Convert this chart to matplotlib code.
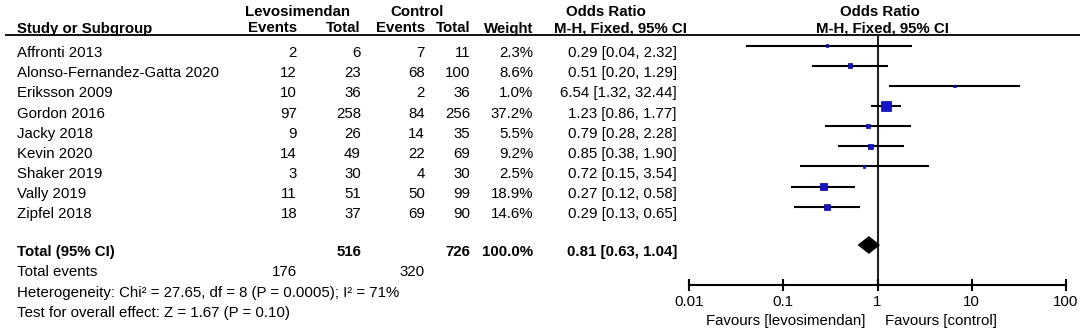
import matplotlib
matplotlib.use("Agg")
import matplotlib.pyplot as plt
import numpy as np

plt.rcParams["font.family"] = ["Liberation Sans", "DejaVu Sans"]

# data
studies = [
    "Affronti 2013",
    "Alonso-Fernandez-Gatta 2020",
    "Eriksson 2009",
    "Gordon 2016",
    "Jacky 2018",
    "Kevin 2020",
    "Shaker 2019",
    "Vally 2019",
    "Zipfel 2018",
]
levo_events = [2, 12, 10, 97, 9, 14, 3, 11, 18]
levo_total = [6, 23, 36, 258, 26, 49, 30, 51, 37]
ctrl_events = [7, 68, 2, 84, 14, 22, 4, 50, 69]
ctrl_total = [11, 100, 36, 256, 35, 69, 30, 99, 90]
weights = [2.3, 8.6, 1.0, 37.2, 5.5, 9.2, 2.5, 18.9, 14.6]
odds = [0.29, 0.51, 6.54, 1.23, 0.79, 0.85, 0.72, 0.27, 0.29]
ci_low = [0.04, 0.20, 1.32, 0.86, 0.28, 0.38, 0.15, 0.12, 0.13]
ci_high = [2.32, 1.29, 32.44, 1.77, 2.28, 1.90, 3.54, 0.58, 0.65]

total_levo = 516
total_ctrl = 726
total_weight = 100.0
events_levo = 176
events_ctrl = 320
total_or = 0.81
total_low = 0.63
total_high = 1.04

axis_ticks = [0.01, 0.1, 1, 10, 100]
axis_labels = ["0.01", "0.1", "1", "10", "100"]

heterogeneity = "Heterogeneity: Chi\u00b2 = 27.65, df = 8 (P = 0.0005); I\u00b2 = 71%"
overall = "Test for overall effect: Z = 1.67 (P = 0.10)"

FS = 10.8
W, H = 1084, 332

fig = plt.figure(figsize=(W / 100, H / 100), dpi=100)
fig.patch.set_facecolor("white")

# table part, laid out in pixel units
ax_t = fig.add_axes([0, 0, 1, 1])
ax_t.set_xlim(0, W)
ax_t.set_ylim(H, 0)
ax_t.axis("off")

X_NAME = 17
X_LEV_E = 297
X_LEV_T = 361
X_CON_E = 425
X_CON_T = 470
X_WEIGHT = 533
X_OR = 677

ROW0 = 57.1  # baseline of first study row
DROW = 20.15

# headers
ax_t.text(297, 15.5, "Levosimendan", ha="center", va="baseline", fontsize=FS, fontweight="bold")
ax_t.text(417, 15.5, "Control", ha="center", va="baseline", fontsize=FS, fontweight="bold")
ax_t.text(606, 15.5, "Odds Ratio", ha="center", va="baseline", fontsize=FS, fontweight="bold")
ax_t.text(880, 15.5, "Odds Ratio", ha="center", va="baseline", fontsize=FS, fontweight="bold")
hdr_y = 32.5
ax_t.text(X_NAME, hdr_y, "Study or Subgroup", ha="left", va="baseline", fontsize=FS, fontweight="bold")
for x, s in [(X_LEV_E, "Events"), (X_LEV_T, "Total"), (X_CON_E, "Events"),
             (X_CON_T, "Total"), (X_WEIGHT, "Weight")]:
    ax_t.text(x, hdr_y, s, ha="right", va="baseline", fontsize=FS, fontweight="bold")
ax_t.text(620, hdr_y, "M-H, Fixed, 95% CI", ha="center", va="baseline", fontsize=FS, fontweight="bold")
ax_t.text(882, hdr_y, "M-H, Fixed, 95% CI", ha="center", va="baseline", fontsize=FS, fontweight="bold")
ax_t.plot([5, 1080], [34.5, 34.5], color="black", lw=1.3, solid_capstyle="butt")

# study rows
for i, name in enumerate(studies):
    y = ROW0 + DROW * i
    ax_t.text(X_NAME, y, name, ha="left", va="baseline", fontsize=FS)
    ax_t.text(X_LEV_E, y, str(levo_events[i]), ha="right", va="baseline", fontsize=FS)
    ax_t.text(X_LEV_T, y, str(levo_total[i]), ha="right", va="baseline", fontsize=FS)
    ax_t.text(X_CON_E, y, str(ctrl_events[i]), ha="right", va="baseline", fontsize=FS)
    ax_t.text(X_CON_T, y, str(ctrl_total[i]), ha="right", va="baseline", fontsize=FS)
    ax_t.text(X_WEIGHT, y, f"{weights[i]:.1f}%", ha="right", va="baseline", fontsize=FS)
    ax_t.text(X_OR, y, f"{odds[i]:.2f} [{ci_low[i]:.2f}, {ci_high[i]:.2f}]",
              ha="right", va="baseline", fontsize=FS)

# totals
y_tot = 256
ax_t.text(X_NAME, y_tot, "Total (95% CI)", ha="left", va="baseline", fontsize=FS, fontweight="bold")
ax_t.text(X_LEV_T, y_tot, str(total_levo), ha="right", va="baseline", fontsize=FS, fontweight="bold")
ax_t.text(X_CON_T, y_tot, str(total_ctrl), ha="right", va="baseline", fontsize=FS, fontweight="bold")
ax_t.text(X_WEIGHT, y_tot, f"{total_weight:.1f}%", ha="right", va="baseline", fontsize=FS, fontweight="bold")
ax_t.text(X_OR, y_tot, f"{total_or:.2f} [{total_low:.2f}, {total_high:.2f}]",
          ha="right", va="baseline", fontsize=FS, fontweight="bold")
ax_t.text(X_NAME, 276.5, "Total events", ha="left", va="baseline", fontsize=FS)
ax_t.text(X_LEV_E, 276.5, str(events_levo), ha="right", va="baseline", fontsize=FS)
ax_t.text(X_CON_E, 276.5, str(events_ctrl), ha="right", va="baseline", fontsize=FS)
ax_t.text(X_NAME, 296.5, heterogeneity, ha="left", va="baseline", fontsize=FS)
ax_t.text(X_NAME, 316.5, overall, ha="left", va="baseline", fontsize=FS)

ax_t.text(865, 325.5, "Favours [levosimendan]", ha="right", va="baseline", fontsize=FS)
ax_t.text(885, 325.5, "Favours [control]", ha="left", va="baseline", fontsize=FS)

# forest plot, log scale
AX_L, AX_R = 689, 1066
AX_TOP, AX_BOT = 34.5, 285
ax = fig.add_axes([AX_L / W, 1 - AX_BOT / H, (AX_R - AX_L) / W, (AX_BOT - AX_TOP) / H])
ax.patch.set_alpha(0)
ax.set_xscale("log")
ax.set_xlim(0.01, 100)
ax.set_ylim((AX_BOT - 45.5) / DROW, (AX_TOP - 45.5) / DROW)

rows = np.arange(len(studies))
ax.axvline(1, color="#222222", lw=1.5, zorder=1)
ax.hlines(rows, ci_low, ci_high, color="black", lw=1.5, zorder=2)
side_px = 10 * np.sqrt(np.array(weights) / max(weights))
side_px = np.maximum(side_px, 2.4)
ax.scatter(odds, rows, marker="s", s=(side_px * 0.72) ** 2, color="#1414C8",
           edgecolors="#000090", linewidths=0.5, zorder=3)

total_row = 9.9
h = 8 / DROW
ax.fill([total_low, total_or, total_high, total_or],
        [total_row, total_row - h, total_row, total_row + h],
        color="black", zorder=3)

for side in ["top", "left", "right"]:
    ax.spines[side].set_visible(False)
ax.spines["bottom"].set_linewidth(1.5)
ax.set_yticks([])
ax.set_xticks(axis_ticks)
ax.set_xticklabels(axis_labels, fontsize=FS)
ax.minorticks_off()
ax.tick_params(axis="x", direction="inout", length=8, width=1.5, pad=3)

fig.savefig("out.png", dpi=100)
